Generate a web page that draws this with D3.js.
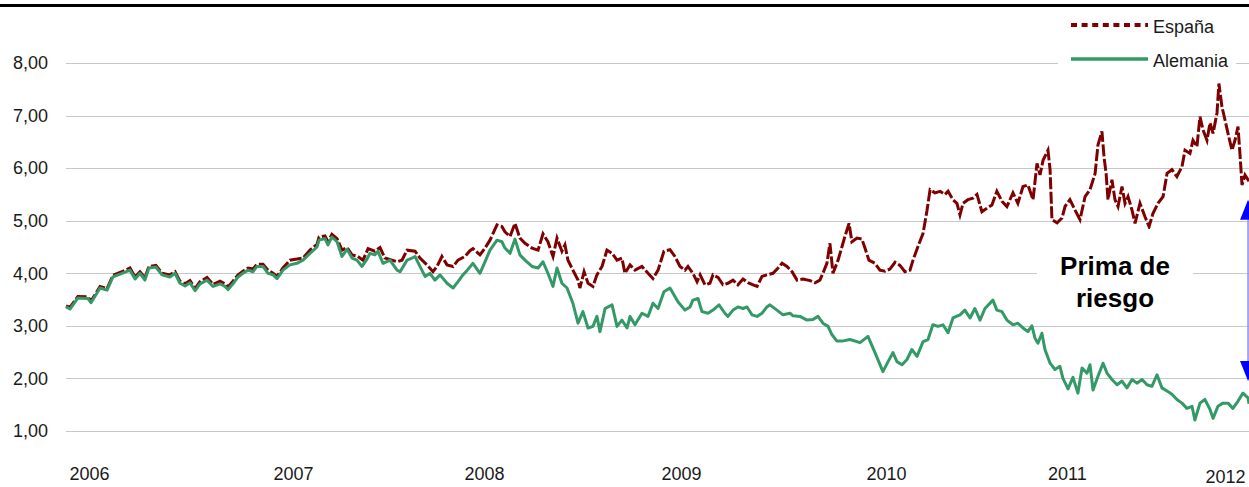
<!DOCTYPE html>
<html>
<head>
<meta charset="utf-8">
<style>
body { margin: 0; background: #fff; }
svg { display: block; font-family: "Liberation Sans", Arial, sans-serif; }
.grid line { stroke: #c8c8c8; shape-rendering: crispEdges; }
.grid text, .xaxis text { fill: #1a1a1a; font-size: 18px; }
</style>
</head>
<body>
<svg id="chart" width="1249" height="487"></svg>
<script src="https://d3js.org/d3.v7.min.js"></script>
<script>

// tiempo en años desde 2006, valor en %
var espana = [[0.000,3.38],[0.021,3.35],[0.063,3.56],[0.116,3.55],[0.132,3.47],[0.180,3.75],[0.217,3.71],[0.248,3.96],[0.296,4.03],[0.338,4.10],[0.365,3.93],[0.391,4.03],[0.417,3.91],[0.438,4.13],[0.475,4.15],[0.507,4.00],[0.549,3.97],[0.576,4.03],[0.602,3.85],[0.629,3.80],[0.655,3.86],[0.682,3.71],[0.708,3.84],[0.745,3.92],[0.777,3.79],[0.814,3.85],[0.840,3.80],[0.856,3.74],[0.882,3.85],[0.909,3.97],[0.935,4.04],[0.962,4.10],[0.988,4.08],[1.009,4.17],[1.041,4.17],[1.067,4.06],[1.094,4.00],[1.115,3.94],[1.146,4.10],[1.183,4.25],[1.220,4.27],[1.252,4.29],[1.289,4.44],[1.326,4.55],[1.337,4.69],[1.368,4.71],[1.384,4.60],[1.405,4.74],[1.432,4.66],[1.458,4.44],[1.485,4.49],[1.511,4.35],[1.537,4.33],[1.569,4.25],[1.596,4.47],[1.632,4.42],[1.659,4.49],[1.685,4.29],[1.722,4.25],[1.749,4.22],[1.775,4.25],[1.802,4.44],[1.844,4.42],[1.870,4.29],[1.907,4.16],[1.939,4.03],[1.960,4.13],[1.986,4.32],[2.013,4.16],[2.045,4.13],[2.071,4.25],[2.108,4.32],[2.134,4.43],[2.150,4.47],[2.187,4.35],[2.214,4.48],[2.240,4.63],[2.277,4.92],[2.303,4.89],[2.319,4.79],[2.346,4.70],[2.372,4.95],[2.398,4.67],[2.425,4.57],[2.462,4.48],[2.494,4.44],[2.520,4.75],[2.546,4.60],[2.573,4.32],[2.594,4.67],[2.620,4.42],[2.636,4.54],[2.652,4.25],[2.678,4.06],[2.705,3.87],[2.715,3.72],[2.737,4.03],[2.758,3.81],[2.784,3.75],[2.805,3.97],[2.832,4.13],[2.858,4.44],[2.885,4.38],[2.911,4.25],[2.937,4.29],[2.953,4.00],[2.980,4.16],[3.006,4.06],[3.043,4.13],[3.075,4.00],[3.101,3.90],[3.128,4.06],[3.159,4.42],[3.191,4.45],[3.217,4.32],[3.244,4.13],[3.270,4.06],[3.286,4.13],[3.312,4.00],[3.334,3.84],[3.350,3.97],[3.376,3.78],[3.402,3.81],[3.418,3.97],[3.445,3.92],[3.471,3.78],[3.497,3.81],[3.524,3.87],[3.550,3.78],[3.577,3.89],[3.603,3.82],[3.630,3.78],[3.651,3.75],[3.677,3.94],[3.703,3.97],[3.735,4.00],[3.762,4.10],[3.783,4.19],[3.809,4.13],[3.836,4.03],[3.862,3.87],[3.894,3.89],[3.931,3.86],[3.957,3.82],[3.983,3.87],[3.999,4.00],[4.020,4.19],[4.036,4.57],[4.052,4.00],[4.079,4.25],[4.100,4.51],[4.115,4.70],[4.137,4.95],[4.152,4.60],[4.179,4.67],[4.205,4.65],[4.221,4.48],[4.242,4.25],[4.274,4.19],[4.300,4.06],[4.327,4.04],[4.353,4.08],[4.380,4.21],[4.406,4.15],[4.432,4.03],[4.459,4.06],[4.475,4.25],[4.501,4.51],[4.528,4.76],[4.549,5.20],[4.565,5.59],[4.591,5.53],[4.618,5.56],[4.644,5.50],[4.660,5.56],[4.686,5.40],[4.707,5.33],[4.723,5.11],[4.739,5.33],[4.765,5.40],[4.792,5.43],[4.813,5.50],[4.839,5.17],[4.866,5.24],[4.892,5.30],[4.918,5.56],[4.945,5.37],[4.971,5.27],[5.003,5.53],[5.029,5.33],[5.056,5.65],[5.082,5.68],[5.109,5.40],[5.130,6.09],[5.146,5.87],[5.162,6.15],[5.188,6.34],[5.199,5.97],[5.209,5.02],[5.236,4.96],[5.262,5.05],[5.278,5.27],[5.304,5.40],[5.331,5.20],[5.357,5.02],[5.384,5.46],[5.410,5.59],[5.437,5.90],[5.452,6.44],[5.473,6.70],[5.484,6.22],[5.495,5.90],[5.505,5.40],[5.526,5.78],[5.542,5.40],[5.558,5.27],[5.579,5.65],[5.595,5.33],[5.611,5.46],[5.632,5.20],[5.648,4.95],[5.674,5.33],[5.700,5.08],[5.722,4.89],[5.743,5.14],[5.769,5.33],[5.796,5.46],[5.817,5.90],[5.843,5.97],[5.869,5.84],[5.896,6.03],[5.912,6.34],[5.938,6.28],[5.954,6.53],[5.975,6.41],[5.991,6.98],[6.007,6.73],[6.028,6.53],[6.044,6.86],[6.060,6.66],[6.081,7.05],[6.091,7.61],[6.107,7.17],[6.123,6.92],[6.139,6.66],[6.160,6.34],[6.176,6.53],[6.192,6.79],[6.202,6.28],[6.213,5.68],[6.229,5.87],[6.245,5.78],[6.250,5.80]];

var alemania = [[0.000,3.36],[0.021,3.32],[0.063,3.53],[0.116,3.52],[0.132,3.44],[0.180,3.72],[0.217,3.68],[0.248,3.93],[0.296,4.00],[0.338,4.06],[0.365,3.89],[0.391,4.00],[0.417,3.87],[0.438,4.10],[0.475,4.12],[0.507,3.97],[0.549,3.93],[0.576,4.00],[0.602,3.81],[0.629,3.76],[0.655,3.82],[0.682,3.67],[0.708,3.80],[0.745,3.87],[0.777,3.75],[0.814,3.80],[0.840,3.75],[0.856,3.69],[0.882,3.80],[0.909,3.93],[0.935,4.00],[0.962,4.06],[0.988,4.03],[1.009,4.13],[1.041,4.13],[1.067,4.00],[1.094,3.97],[1.115,3.90],[1.146,4.06],[1.183,4.16],[1.220,4.19],[1.252,4.25],[1.289,4.38],[1.326,4.50],[1.337,4.63],[1.368,4.66],[1.384,4.54],[1.405,4.69],[1.432,4.60],[1.458,4.32],[1.485,4.46],[1.511,4.29],[1.537,4.25],[1.564,4.13],[1.590,4.27],[1.606,4.38],[1.632,4.35],[1.648,4.42],[1.675,4.19],[1.712,4.25],[1.749,4.06],[1.765,4.03],[1.802,4.25],[1.828,4.29],[1.844,4.32],[1.870,4.13],[1.897,3.94],[1.923,4.00],[1.949,3.87],[1.976,3.97],[2.013,3.81],[2.045,3.72],[2.071,3.84],[2.097,3.97],[2.118,4.05],[2.150,4.19],[2.187,4.00],[2.214,4.22],[2.240,4.44],[2.277,4.63],[2.303,4.60],[2.319,4.48],[2.346,4.38],[2.372,4.65],[2.398,4.35],[2.425,4.25],[2.462,4.13],[2.494,4.10],[2.520,4.22],[2.546,4.00],[2.573,3.75],[2.594,4.10],[2.620,3.81],[2.647,3.72],[2.678,3.43],[2.705,3.05],[2.731,3.27],[2.758,2.96],[2.784,2.99],[2.805,3.18],[2.821,2.89],[2.848,3.33],[2.885,3.40],[2.911,2.99],[2.937,3.11],[2.964,2.96],[2.980,3.18],[3.006,3.02],[3.043,3.24],[3.075,3.18],[3.101,3.43],[3.128,3.33],[3.159,3.65],[3.191,3.72],[3.217,3.56],[3.233,3.46],[3.270,3.30],[3.297,3.36],[3.312,3.49],[3.339,3.52],[3.360,3.27],[3.392,3.24],[3.418,3.30],[3.450,3.40],[3.481,3.24],[3.497,3.18],[3.524,3.30],[3.550,3.36],[3.577,3.33],[3.598,3.36],[3.624,3.21],[3.651,3.18],[3.677,3.24],[3.703,3.36],[3.719,3.40],[3.756,3.30],[3.788,3.21],[3.825,3.24],[3.841,3.19],[3.878,3.18],[3.915,3.11],[3.946,3.12],[3.973,3.18],[3.999,3.05],[4.026,2.99],[4.047,2.83],[4.073,2.71],[4.100,2.71],[4.142,2.74],[4.195,2.68],[4.237,2.80],[4.274,2.49],[4.316,2.13],[4.343,2.32],[4.369,2.49],[4.390,2.32],[4.417,2.26],[4.443,2.36],[4.469,2.55],[4.496,2.42],[4.528,2.70],[4.554,2.74],[4.580,3.02],[4.607,2.99],[4.633,3.02],[4.660,2.87],[4.686,3.15],[4.723,3.21],[4.749,3.30],[4.776,3.15],[4.802,3.33],[4.829,3.11],[4.855,3.33],[4.897,3.49],[4.918,3.30],[4.945,3.27],[4.971,3.11],[5.003,3.02],[5.029,3.05],[5.056,2.96],[5.082,2.89],[5.103,3.00],[5.119,2.77],[5.135,2.67],[5.156,2.86],[5.172,2.55],[5.199,2.29],[5.225,2.17],[5.251,2.23],[5.267,2.00],[5.294,1.80],[5.320,2.02],[5.346,1.72],[5.368,2.20],[5.394,2.10],[5.410,2.26],[5.426,1.78],[5.452,2.04],[5.479,2.29],[5.500,2.10],[5.526,1.98],[5.553,1.88],[5.579,1.95],[5.605,1.82],[5.632,1.98],[5.658,1.91],[5.685,1.98],[5.711,1.88],[5.737,1.85],[5.764,2.07],[5.790,1.82],[5.817,1.76],[5.843,1.70],[5.869,1.60],[5.896,1.53],[5.922,1.43],[5.949,1.47],[5.964,1.21],[5.991,1.53],[6.017,1.60],[6.044,1.41],[6.060,1.24],[6.086,1.47],[6.112,1.53],[6.139,1.53],[6.165,1.43],[6.192,1.57],[6.218,1.72],[6.245,1.63],[6.250,1.52]];

var yTicks = [1, 2, 3, 4, 5, 6, 7, 8];
var yearLabels = ["2006", "2007", "2008", "2009", "2010", "2011", "2012"];
var yearPos = [0.122, 1.199, 2.208, 3.249, 4.332, 5.288, 6.123];
var yearNudge = [0, 0, 0, 0, 0, 0, 3];
var seriesNames = ["España", "Alemania"];
var seriesColors = ["#7f0000", "#339966"];
var arrowAt = 6.245, arrowTop = 5.40, arrowBottom = 1.95, arrowHead = 20;

var W = 1249, H = 487;
var margin = {top: 63, right: 0, bottom: 56, left: 66};

var x = d3.scaleLinear().domain([0, 6.25]).range([margin.left, W - margin.right]);
var y = d3.scaleLinear().domain([1, 8]).range([H - margin.bottom, margin.top]);

var svg = d3.select("#chart");

svg.append("rect").attr("width", W).attr("height", H).attr("fill", "#fff");

// linea negra superior
svg.append("line")
    .attr("x1", 0).attr("x2", W)
    .attr("y1", 5.5).attr("y2", 5.5)
    .attr("stroke", "#000").attr("stroke-width", 3);

// rejilla + etiquetas eje y
svg.append("g")
    .attr("class", "grid")
    .attr("transform", "translate(" + margin.left + ",0)")
    .call(d3.axisLeft(y)
        .tickValues(yTicks)
        .tickSize(-(W - margin.left))
        .tickPadding(18)
        .tickFormat(d => d3.format(".2f")(d).replace(".", ",")))
    .call(g => g.select(".domain").remove());

// etiquetas eje x
svg.append("g")
    .attr("class", "xaxis")
    .attr("transform", "translate(0," + y(1) + ")")
    .call(d3.axisBottom(x)
        .tickValues(yearPos)
        .tickSize(0)
        .tickPadding(36)
        .tickFormat((d, i) => yearLabels[i]))
    .call(g => g.select(".domain").remove())
    .call(g => g.selectAll(".tick text").attr("transform", (d, i) => "translate(0," + yearNudge[i] + ")"));

var line = d3.line()
    .x(d => x(d[0]))
    .y(d => y(d[1]));

svg.append("path")
    .datum(espana)
    .attr("fill", "none")
    .attr("stroke", seriesColors[0])
    .attr("stroke-width", 3)
    .attr("stroke-dasharray", "12,2.5")
    .attr("d", line);

svg.append("path")
    .datum(alemania)
    .attr("fill", "none")
    .attr("stroke", seriesColors[1])
    .attr("stroke-width", 3)
    .attr("stroke-linejoin", "round")
    .attr("d", line);

// leyenda
var leg = svg.append("g");
leg.append("rect")
    .attr("x", 1058).attr("y", 9).attr("width", 178).attr("height", 64)
    .attr("fill", "#fff");
var item = leg.selectAll("g.item")
    .data(seriesNames)
    .enter().append("g")
    .attr("class", "item")
    .attr("transform", (d, i) => "translate(1071," + (25 + i * 34) + ")");
item.append("line")
    .attr("x1", 0).attr("x2", 77)
    .attr("stroke", (d, i) => seriesColors[i])
    .attr("stroke-width", (d, i) => i == 0 ? 4 : 3.5)
    .attr("stroke-dasharray", (d, i) => i == 0 ? "6,4.6" : null);
item.append("text")
    .attr("x", 82).attr("y", 8)
    .attr("fill", "#1a1a1a")
    .style("font-size", "18px")
    .text(d => d);

// recuadro "Prima de riesgo"
svg.append("rect")
    .attr("x", 1037).attr("y", 229).attr("width", 156).attr("height", 92)
    .attr("fill", "#fff");
svg.append("text")
    .attr("x", 1115).attr("y", 275)
    .attr("text-anchor", "middle")
    .attr("font-weight", "bold")
    .style("font-size", "26px")
    .attr("fill", "#000")
    .selectAll("tspan")
    .data(["Prima de", "riesgo"])
    .enter().append("tspan")
    .attr("x", 1115)
    .attr("dy", (d, i) => i == 0 ? 0 : 32)
    .text(d => d);

// flecha doble
var ax = x(arrowAt);
svg.append("line")
    .attr("x1", ax).attr("x2", ax)
    .attr("y1", y(arrowTop) + arrowHead).attr("y2", y(arrowBottom) - arrowHead)
    .attr("stroke", "#8c8cff").attr("stroke-width", 1.5);
svg.append("path")
    .attr("fill", "#0000ff")
    .attr("d", "M" + ax + "," + y(arrowTop) + "L" + (ax + 8) + "," + (y(arrowTop) + arrowHead) +
               "L" + (ax - 8) + "," + (y(arrowTop) + arrowHead) + "Z");
svg.append("path")
    .attr("fill", "#0000ff")
    .attr("d", "M" + ax + "," + y(arrowBottom) + "L" + (ax + 8) + "," + (y(arrowBottom) - arrowHead) +
               "L" + (ax - 8) + "," + (y(arrowBottom) - arrowHead) + "Z");

</script>
</body>
</html>
